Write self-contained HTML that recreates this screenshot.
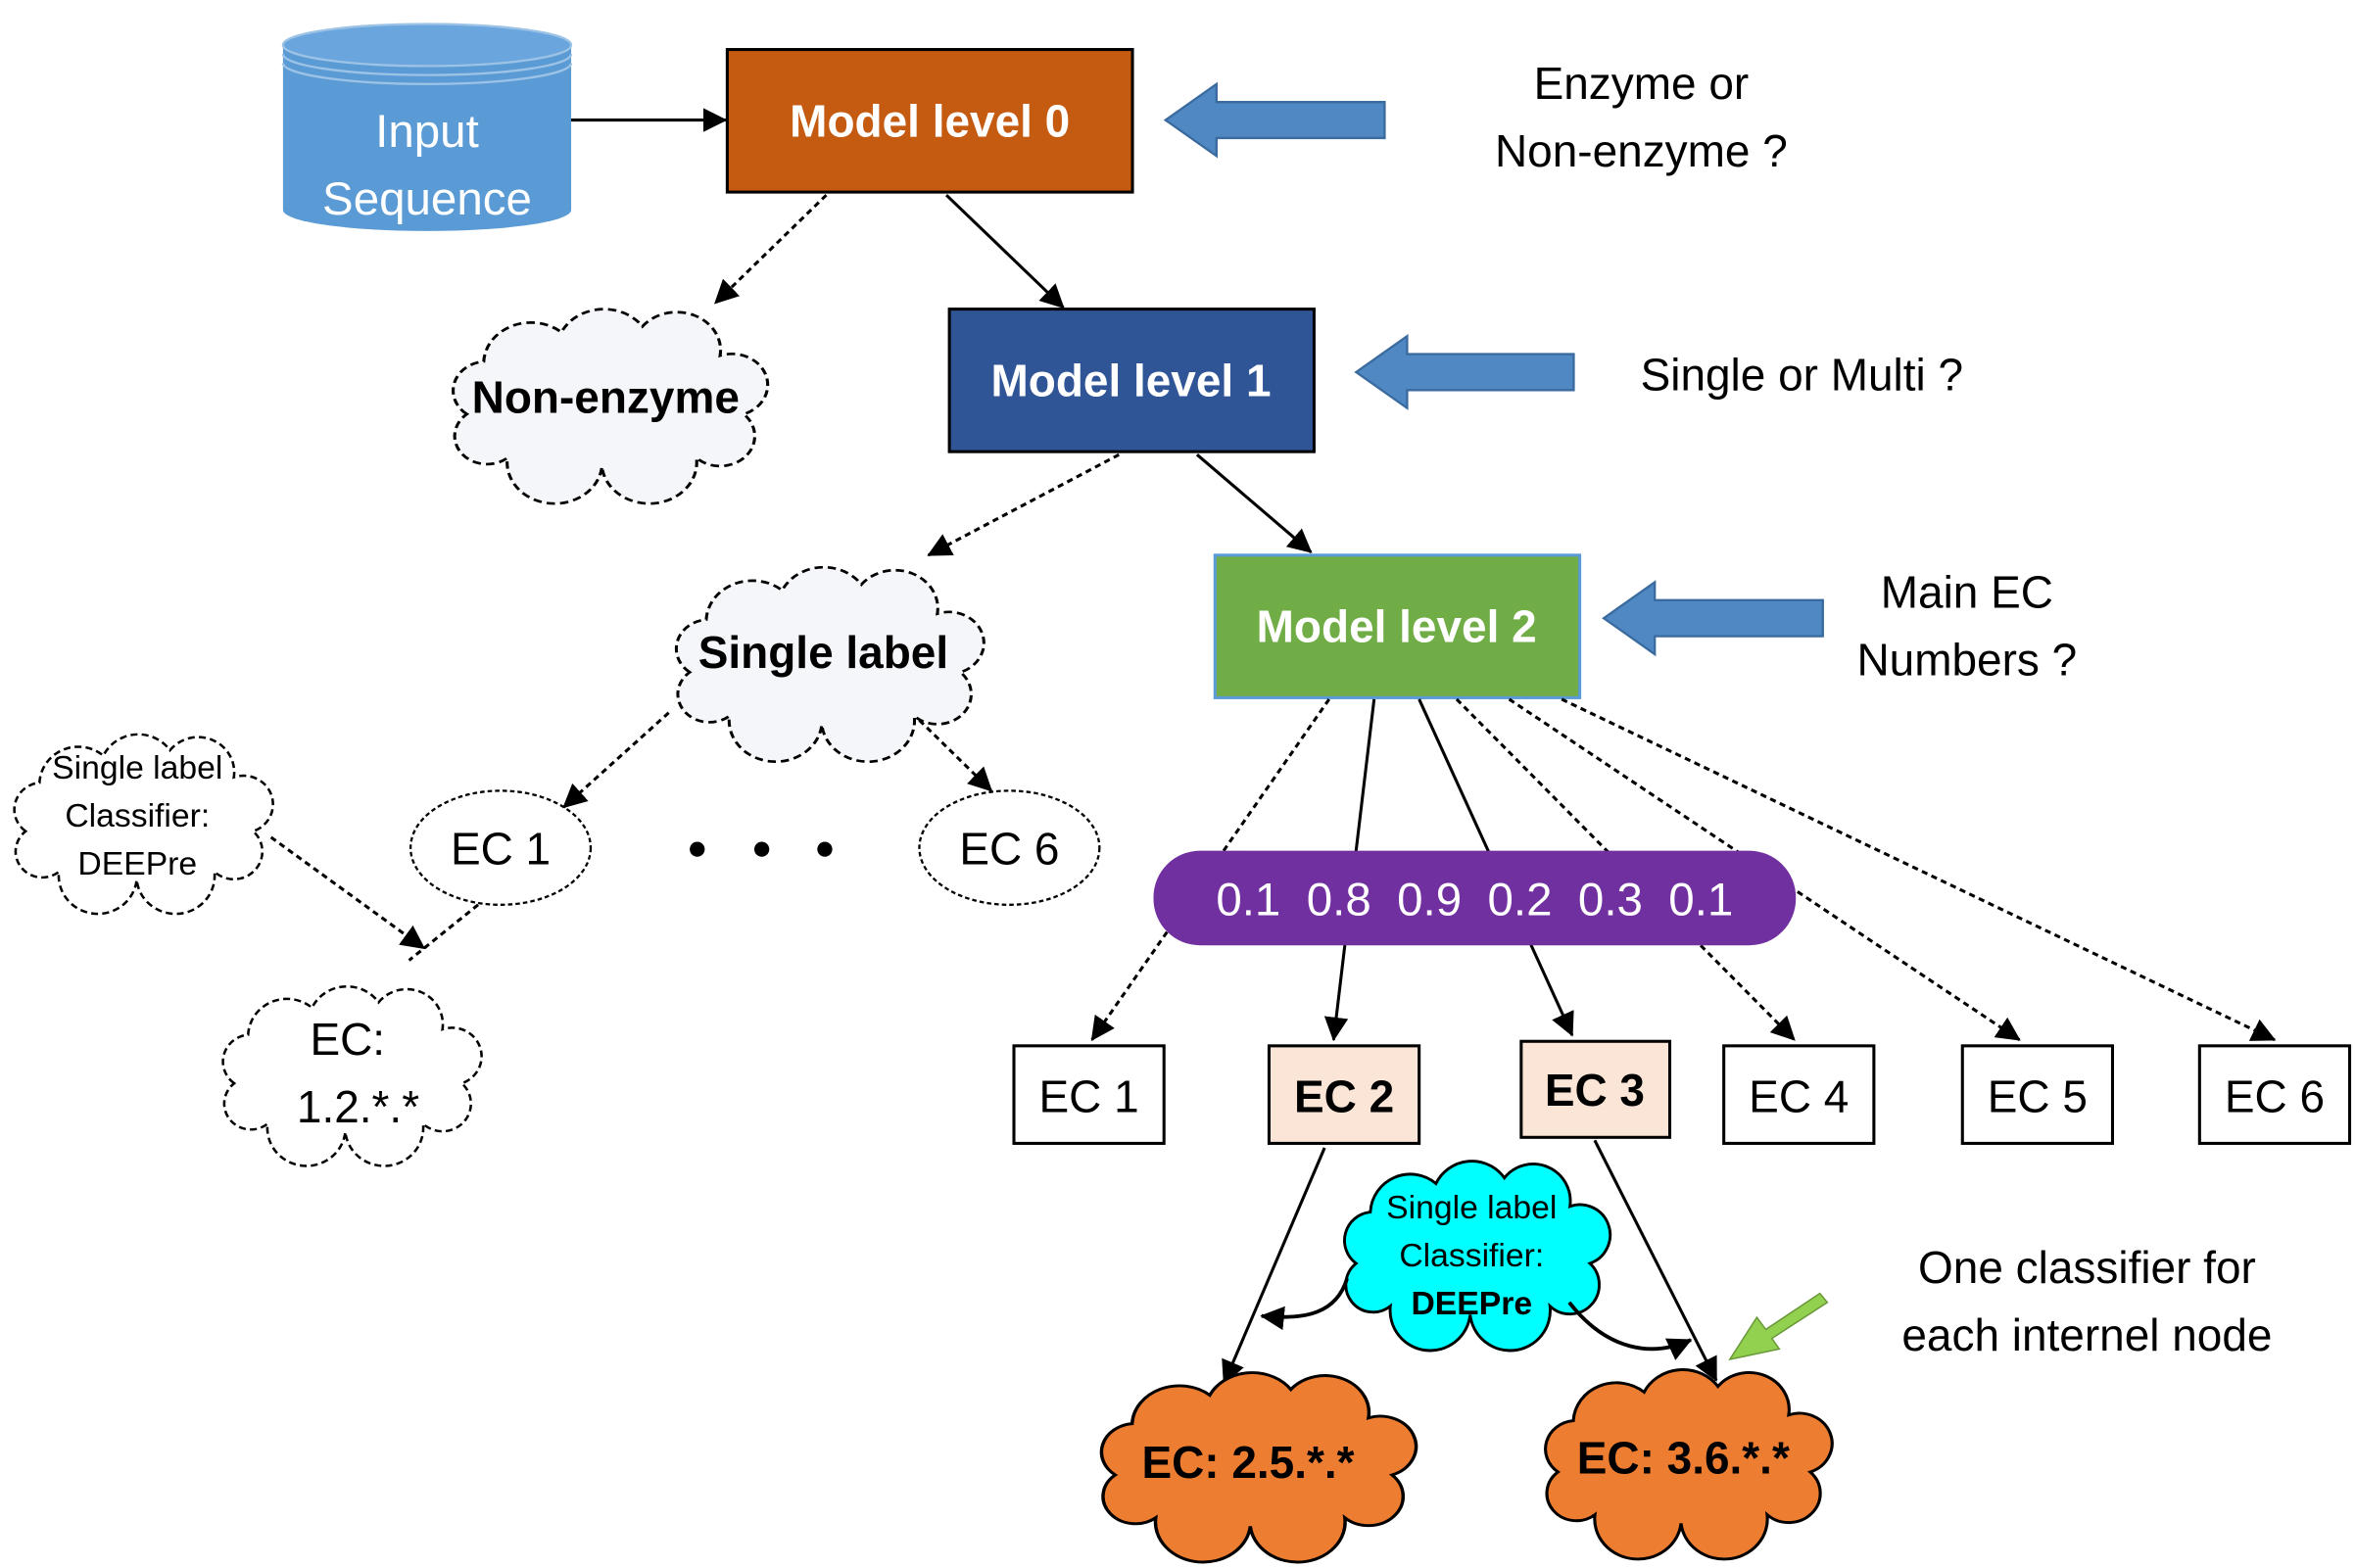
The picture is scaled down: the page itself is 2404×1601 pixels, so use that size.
<!DOCTYPE html>
<html><head><meta charset="utf-8"><style>
html,body{margin:0;padding:0;background:#fff;}
svg{display:block;}
text{font-family:"Liberation Sans","DejaVu Sans",sans-serif;}
</style></head><body>
<svg width="2404" height="1601" viewBox="0 0 1568 1045" xmlns="http://www.w3.org/2000/svg">
<defs>
<marker id="ah2" markerWidth="16" markerHeight="16" refX="15" refY="8" orient="auto" markerUnits="userSpaceOnUse" viewBox="0 0 16 16">
<path d="M0,0 L16,8 L0,16 z" fill="#000"/></marker>
<path id="cl" d="M 10,40 A 10,10 0 0 1 15,22 A 14,14 0 0 1 38,12 A 14,14 0 0 1 62,10 A 13,13 0 0 1 85,20 A 10,10 0 0 1 92,40 A 10,10 0 0 1 78,55 A 14,14 0 0 1 50,58 A 14,14 0 0 1 22,55 A 9,9 0 0 1 10,40 Z"/>
</defs>
<rect width="1568" height="1045" fill="#fff"/>

<path d="M188,30 L188,140 A96,14 0 0 0 380,140 L380,30" fill="#5b9bd5"/>
<ellipse cx="284" cy="30" rx="96" ry="14" fill="#6aa5dd" stroke="#9cc3e6" stroke-width="1.5"/>
<path d="M188,36 A96,14 0 0 0 380,36 M188,42 A96,14 0 0 0 380,42" fill="none" stroke="#9cc3e6" stroke-width="1.5"/>
<text x="284" y="98" font-size="31" fill="#fff" text-anchor="middle">Input</text>
<text x="284" y="143" font-size="31" fill="#fff" text-anchor="middle">Sequence</text>
<line x1="380" y1="80" x2="483" y2="80" stroke="#000" stroke-width="2" marker-end="url(#ah2)"/>

<rect x="484" y="33" width="270" height="95" fill="#c55a11" stroke="#000" stroke-width="2"/>
<text x="619" y="91" font-size="30" font-weight="bold" fill="#fff" text-anchor="middle">Model level 0</text>
<path d="M922,68 L810,68 L810,56 L776,80 L810,104 L810,92 L922,92 Z" fill="#4f88c2" stroke="#3a6a9e" stroke-width="1.5"/>
<text x="1093" y="66" font-size="30" text-anchor="middle">Enzyme or</text>
<text x="1093" y="111" font-size="30" text-anchor="middle">Non-enzyme ?</text>

<line x1="550" y1="130" x2="476" y2="202" stroke="#000" stroke-width="2" stroke-dasharray="4,3" marker-end="url(#ah2)"/>
<line x1="630" y1="130" x2="708" y2="205" stroke="#000" stroke-width="2" marker-end="url(#ah2)"/>

<use href="#cl" transform="translate(288,198) scale(2.25,1.95)" fill="#f4f6fa" stroke="#000" stroke-width="0.9" stroke-dasharray="2.5,1.5" vector-effect="non-scaling-stroke"/>
<text x="403" y="275" font-size="30" font-weight="bold" text-anchor="middle">Non-enzyme</text>

<rect x="632" y="206" width="243" height="95" fill="#2f5597" stroke="#000" stroke-width="2"/>
<text x="753" y="264" font-size="30" font-weight="bold" fill="#fff" text-anchor="middle">Model level 1</text>
<path d="M1048,236 L937,236 L937,224 L903,248 L937,272 L937,260 L1048,260 Z" fill="#4f88c2" stroke="#3a6a9e" stroke-width="1.5"/>
<text x="1200" y="260" font-size="30" text-anchor="middle">Single or Multi ?</text>

<line x1="745" y1="303" x2="618" y2="370" stroke="#000" stroke-width="2" stroke-dasharray="4,3" marker-end="url(#ah2)"/>
<line x1="797" y1="303" x2="873" y2="368" stroke="#000" stroke-width="2" marker-end="url(#ah2)"/>

<use href="#cl" transform="translate(437,370) scale(2.2,1.95)" fill="#f4f6fa" stroke="#000" stroke-width="0.9" stroke-dasharray="2.5,1.5" vector-effect="non-scaling-stroke"/>
<text x="548" y="445" font-size="30" font-weight="bold" text-anchor="middle">Single label</text>

<rect x="809" y="370" width="243" height="95" fill="#70ad47" stroke="#5b9bd5" stroke-width="2"/>
<text x="930" y="428" font-size="30" font-weight="bold" fill="#fff" text-anchor="middle">Model level 2</text>
<path d="M1214,400 L1102,400 L1102,388 L1068,412 L1102,436 L1102,424 L1214,424 Z" fill="#4f88c2" stroke="#3a6a9e" stroke-width="1.5"/>
<text x="1310" y="405" font-size="30" text-anchor="middle">Main EC</text>
<text x="1310" y="450" font-size="30" text-anchor="middle">Numbers ?</text>

<use href="#cl" transform="translate(-2,482) scale(1.85,1.8)" fill="#fff" stroke="#000" stroke-width="0.9" stroke-dasharray="2.5,1.5" vector-effect="non-scaling-stroke"/>
<text x="91" y="519" font-size="22" text-anchor="middle">Single label</text>
<text x="91" y="551" font-size="22" text-anchor="middle">Classifier:</text>
<text x="91" y="583" font-size="22" text-anchor="middle">DEEPre</text>
<line x1="180" y1="558" x2="282" y2="632" stroke="#000" stroke-width="2" stroke-dasharray="4,3" marker-end="url(#ah2)"/>

<ellipse cx="333" cy="565" rx="60" ry="38" fill="#fff" stroke="#000" stroke-width="1.5" stroke-dasharray="3,2"/>
<text x="333" y="576" font-size="30" text-anchor="middle">EC 1</text>
<ellipse cx="672" cy="565" rx="60" ry="38" fill="#fff" stroke="#000" stroke-width="1.5" stroke-dasharray="3,2"/>
<text x="672" y="576" font-size="30" text-anchor="middle">EC 6</text>
<circle cx="464" cy="566" r="5" fill="#000"/><circle cx="507" cy="566" r="5" fill="#000"/><circle cx="549" cy="566" r="5" fill="#000"/>
<line x1="445" y1="475" x2="375" y2="538" stroke="#000" stroke-width="2" stroke-dasharray="4,3" marker-end="url(#ah2)"/>
<line x1="612" y1="480" x2="660" y2="527" stroke="#000" stroke-width="2" stroke-dasharray="4,3" marker-end="url(#ah2)"/>
<line x1="318" y1="603" x2="272" y2="640" stroke="#000" stroke-width="2" stroke-dasharray="4,3"/>

<use href="#cl" transform="translate(137,650) scale(1.85,1.8)" fill="#fff" stroke="#000" stroke-width="0.9" stroke-dasharray="2.5,1.5" vector-effect="non-scaling-stroke"/>
<text x="231" y="703" font-size="30" text-anchor="middle">EC:</text>
<text x="238" y="748" font-size="30" text-anchor="middle">1.2.*.*</text>

<line x1="885" y1="466" x2="727" y2="693" stroke="#000" stroke-width="2" stroke-dasharray="4,3" marker-end="url(#ah2)"/>
<line x1="915" y1="466" x2="888" y2="693" stroke="#000" stroke-width="2" marker-end="url(#ah2)"/>
<line x1="945" y1="466" x2="1047" y2="690" stroke="#000" stroke-width="2" marker-end="url(#ah2)"/>
<line x1="970" y1="466" x2="1195" y2="693" stroke="#000" stroke-width="2" stroke-dasharray="4,3" marker-end="url(#ah2)"/>
<line x1="1005" y1="466" x2="1345" y2="693" stroke="#000" stroke-width="2" stroke-dasharray="4,3" marker-end="url(#ah2)"/>
<line x1="1040" y1="466" x2="1515" y2="693" stroke="#000" stroke-width="2" stroke-dasharray="4,3" marker-end="url(#ah2)"/>

<rect x="768" y="567" width="428" height="63" rx="31" fill="#7030a0"/>
<text x="982" y="610" font-size="31" fill="#fff" text-anchor="middle" xml:space="preserve">0.1  0.8  0.9  0.2  0.3  0.1</text>

<rect x="675" y="697" width="100" height="65" fill="#fff" stroke="#000" stroke-width="2"/>
<text x="725" y="741" font-size="30" text-anchor="middle">EC 1</text>
<rect x="845" y="697" width="100" height="65" fill="#fbe5d6" stroke="#000" stroke-width="2"/>
<text x="895" y="741" font-size="30" font-weight="bold" text-anchor="middle">EC 2</text>
<rect x="1013" y="694" width="99" height="64" fill="#fbe5d6" stroke="#000" stroke-width="2"/>
<text x="1062" y="737" font-size="30" font-weight="bold" text-anchor="middle">EC 3</text>
<rect x="1148" y="697" width="100" height="65" fill="#fff" stroke="#000" stroke-width="2"/>
<text x="1198" y="741" font-size="30" text-anchor="middle">EC 4</text>
<rect x="1307" y="697" width="100" height="65" fill="#fff" stroke="#000" stroke-width="2"/>
<text x="1357" y="741" font-size="30" text-anchor="middle">EC 5</text>
<rect x="1465" y="697" width="100" height="65" fill="#fff" stroke="#000" stroke-width="2"/>
<text x="1515" y="741" font-size="30" text-anchor="middle">EC 6</text>

<line x1="882" y1="765" x2="815" y2="922" stroke="#000" stroke-width="2" marker-end="url(#ah2)"/>
<line x1="1062" y1="760" x2="1143" y2="920" stroke="#000" stroke-width="2" marker-end="url(#ah2)"/>

<use href="#cl" transform="translate(884,766) scale(1.9,1.9)" fill="#00ffff" stroke="#000" stroke-width="1" vector-effect="non-scaling-stroke"/>
<text x="980" y="812" font-size="22" text-anchor="middle">Single label</text>
<text x="980" y="844" font-size="22" text-anchor="middle">Classifier:</text>
<text x="980" y="876" font-size="22" font-weight="bold" text-anchor="middle">DEEPre</text>
<path d="M897,852 C890,875 870,880 840,877" fill="none" stroke="#000" stroke-width="2.5" marker-end="url(#ah2)"/>
<path d="M1045,868 C1070,900 1100,905 1126,893" fill="none" stroke="#000" stroke-width="2.5" marker-end="url(#ah2)"/>

<path d="M1212,862 L1176,886 L1170,878 L1152,906 L1185,899 L1180,892 L1217,868 Z" fill="#92d050" stroke="#6a9a3a" stroke-width="1"/>
<text x="1390" y="855" font-size="30" text-anchor="middle">One classifier for</text>
<text x="1390" y="900" font-size="30" text-anchor="middle">each internel node</text>

<use href="#cl" transform="translate(720,907) scale(2.25,1.9)" fill="#ed7d31" stroke="#000" stroke-width="1" vector-effect="non-scaling-stroke"/>
<text x="831" y="985" font-size="30" font-weight="bold" text-anchor="middle">EC: 2.5.*.*</text>
<use href="#cl" transform="translate(1017,905) scale(2.05,1.9)" fill="#ed7d31" stroke="#000" stroke-width="1" vector-effect="non-scaling-stroke"/>
<text x="1121" y="982" font-size="30" font-weight="bold" text-anchor="middle">EC: 3.6.*.*</text>
</svg>
</body></html>
